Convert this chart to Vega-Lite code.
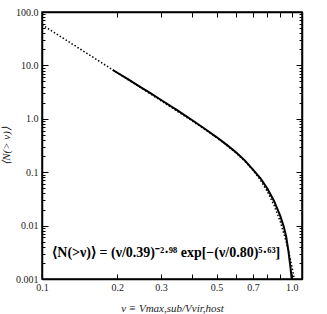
{
  "$schema": "https://vega.github.io/schema/vega-lite/v6.json",
  "width": 260,
  "height": 267,
  "autosize": {"type": "none"},
  "padding": {"left": 42, "top": 12, "right": 25, "bottom": 35},
  "background": "white",
  "config": {
    "view": {"stroke": "black", "strokeWidth": 1.5},
    "axis": {
      "labelFont": "Liberation Serif",
      "labelFontSize": 10,
      "labelColor": "#222",
      "titleFont": "Liberation Serif",
      "titleFontSize": 11,
      "titleFontWeight": "normal",
      "titleFontStyle": "italic",
      "titleColor": "#222",
      "domainColor": "black",
      "domainWidth": 1.5,
      "tickColor": "black",
      "tickWidth": 1,
      "grid": false
    }
  },
  "datasets": {
    "fit": [
      {"nu": 0.1, "N": 57.73}, {"nu": 0.12, "N": 33.53}, {"nu": 0.14, "N": 21.18},
      {"nu": 0.16, "N": 14.23}, {"nu": 0.18, "N": 10.01}, {"nu": 0.2, "N": 7.314},
      {"nu": 0.25, "N": 3.757}, {"nu": 0.3, "N": 2.177}, {"nu": 0.35, "N": 1.368},
      {"nu": 0.4, "N": 0.909}, {"nu": 0.45, "N": 0.628}, {"nu": 0.5, "N": 0.444},
      {"nu": 0.55, "N": 0.318}, {"nu": 0.6, "N": 0.227}, {"nu": 0.65, "N": 0.16},
      {"nu": 0.7, "N": 0.109}, {"nu": 0.75, "N": 0.0711}, {"nu": 0.8, "N": 0.0432},
      {"nu": 0.85, "N": 0.024}, {"nu": 0.9, "N": 0.0119}, {"nu": 0.95, "N": 0.00507},
      {"nu": 0.97, "N": 0.00343}, {"nu": 1.0, "N": 0.0018}, {"nu": 1.02, "N": 0.00112},
      {"nu": 1.04, "N": 0.00067}
    ],
    "sim": [
      {"nu": 0.192, "N": 8.2}, {"nu": 0.22, "N": 5.6}, {"nu": 0.25, "N": 3.85},
      {"nu": 0.27, "N": 3.1}, {"nu": 0.3, "N": 2.25}, {"nu": 0.35, "N": 1.42},
      {"nu": 0.4, "N": 0.94}, {"nu": 0.45, "N": 0.645}, {"nu": 0.5, "N": 0.455},
      {"nu": 0.55, "N": 0.325}, {"nu": 0.6, "N": 0.234}, {"nu": 0.65, "N": 0.165},
      {"nu": 0.7, "N": 0.112}, {"nu": 0.75, "N": 0.077}, {"nu": 0.8, "N": 0.049},
      {"nu": 0.85, "N": 0.029}, {"nu": 0.9, "N": 0.0152}, {"nu": 0.93, "N": 0.0095},
      {"nu": 0.95, "N": 0.0063}, {"nu": 0.97, "N": 0.0034}, {"nu": 0.99, "N": 0.0016},
      {"nu": 1.0, "N": 0.001}, {"nu": 1.01, "N": 0.0006}
    ],
    "label": [
      {"nu": 0.11, "N": 0.0031, "text": "⟨N(>ν)⟩ = (ν/0.39)⁻²·⁹⁸ exp[−(ν/0.80)⁵·⁶³]"}
    ]
  },
  "layer": [
    {
      "data": {"name": "fit"},
      "mark": {"type": "line", "color": "black", "strokeWidth": 1.5, "strokeDash": [1.5, 2], "clip": true},
      "encoding": {
        "x": {
          "field": "nu", "type": "quantitative",
          "scale": {"type": "log", "domain": [0.1, 1.1], "nice": false},
          "axis": {
            "orient": "bottom",
            "title": "ν ≡ Vmax,sub/Vvir,host",
            "values": [0.1, 0.2, 0.3, 0.4, 0.5, 0.6, 0.7, 0.8, 0.9, 1.0],
            "labelExpr": "indexof([0.1,0.2,0.3,0.5,0.7,1], datum.value) >= 0 ? format(datum.value, '.1f') : ''",
            "tickSize": -5,
            "labelPadding": 8,
            "titlePadding": 10,
            "labelFlush": false
          }
        },
        "y": {
          "field": "N", "type": "quantitative",
          "scale": {"type": "log", "domain": [0.001, 100], "nice": false},
          "axis": {
            "orient": "left",
            "title": "⟨N(> ν)⟩",
            "titleX": -31,
            "titleY": 133.5,
            "values": [0.001,0.002,0.003,0.004,0.005,0.006,0.007,0.008,0.009,0.01,0.02,0.03,0.04,0.05,0.06,0.07,0.08,0.09,0.1,0.2,0.3,0.4,0.5,0.6,0.7,0.8,0.9,1,2,3,4,5,6,7,8,9,10,20,30,40,50,60,70,80,90,100],
            "labelExpr": "datum.value == 100 ? '100.0' : datum.value == 10 ? '10.0' : datum.value == 1 ? '1.0' : datum.value == 0.1 ? '0.1' : datum.value == 0.01 ? '0.01' : datum.value == 0.001 ? '0.001' : ''",
            "tickSize": {"condition": {"test": "indexof([0.001,0.01,0.1,1,10,100], datum.value) >= 0", "value": -6}, "value": -3},
            "labelPadding": 10,
            "labelFlush": false
          }
        }
      }
    },
    {
      "data": {"name": "sim"},
      "mark": {"type": "line", "color": "black", "strokeWidth": 2, "clip": true},
      "encoding": {
        "x": {
          "field": "nu", "type": "quantitative",
          "axis": {
            "orient": "top", "title": null, "labels": false,
            "values": [0.1, 0.2, 0.3, 0.4, 0.5, 0.6, 0.7, 0.8, 0.9, 1.0],
            "tickSize": -5
          }
        },
        "y": {
          "field": "N", "type": "quantitative",
          "axis": {
            "orient": "right", "title": null, "labels": false,
            "values": [0.001,0.002,0.003,0.004,0.005,0.006,0.007,0.008,0.009,0.01,0.02,0.03,0.04,0.05,0.06,0.07,0.08,0.09,0.1,0.2,0.3,0.4,0.5,0.6,0.7,0.8,0.9,1,2,3,4,5,6,7,8,9,10,20,30,40,50,60,70,80,90,100],
            "tickSize": {"condition": {"test": "indexof([0.001,0.01,0.1,1,10,100], datum.value) >= 0", "value": -6}, "value": -3}
          }
        }
      }
    },
    {
      "data": {"name": "label"},
      "mark": {"type": "text", "align": "left", "baseline": "middle", "font": "Liberation Serif", "fontSize": 14, "fontWeight": "bold", "color": "black"},
      "encoding": {
        "x": {"field": "nu", "type": "quantitative", "axis": null},
        "y": {"field": "N", "type": "quantitative", "axis": null},
        "text": {"field": "text"}
      }
    }
  ],
  "resolve": {"axis": {"x": "independent", "y": "independent"}}
}
